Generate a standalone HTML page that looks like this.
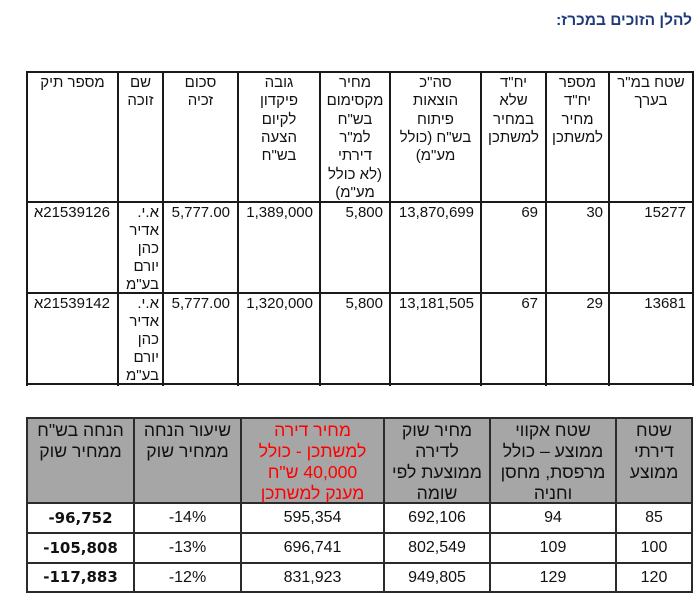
<!DOCTYPE html>
<html lang="he">
<head>
<meta charset="utf-8">
<style>
  html,body{margin:0;padding:0;background:#fff;}
  body{width:695px;height:608px;position:relative;overflow:hidden;
       font-family:"Liberation Sans","DejaVu Sans",sans-serif;color:#111;}
  .ln{position:absolute;background:#1a1a1a;}
  .ln2{position:absolute;background:#2b2b2b;}
  .t{position:absolute;direction:rtl;white-space:nowrap;}
  .h1{top:74px;font-size:15px;line-height:18.33px;text-align:center;}
  .d1{font-size:15px;line-height:18px;text-align:right;}
  .h2{top:420px;font-size:17.6px;line-height:21px;text-align:center;}
  .d2{font-size:16px;text-align:center;}
  .b{font-family:"DejaVu Sans","Liberation Sans",sans-serif;font-weight:bold;font-size:15px;}
  .red{color:#ff0000;}
</style>
</head>
<body>

<!-- Title -->
<div class="t" style="right:3px;top:12px;font-size:15.5px;font-weight:bold;color:#1f3a7a;line-height:18px;">להלן הזוכים במכרז:</div>

<!-- ===== Table 1 lines ===== -->
<div class="ln" style="left:26px;top:71px;width:2px;height:315px;"></div>
<div class="ln" style="left:117px;top:71px;width:2px;height:315px;"></div>
<div class="ln" style="left:162px;top:71px;width:2px;height:315px;"></div>
<div class="ln" style="left:237px;top:71px;width:2px;height:315px;"></div>
<div class="ln" style="left:319px;top:71px;width:2px;height:315px;"></div>
<div class="ln" style="left:389px;top:71px;width:2px;height:315px;"></div>
<div class="ln" style="left:480px;top:71px;width:2px;height:315px;"></div>
<div class="ln" style="left:545px;top:71px;width:2px;height:315px;"></div>
<div class="ln" style="left:608px;top:71px;width:2px;height:315px;"></div>
<div class="ln" style="left:692px;top:71px;width:2px;height:315px;"></div>

<div class="ln" style="left:26px;top:71px;width:668px;height:2px;"></div>
<div class="ln" style="left:26px;top:201px;width:668px;height:2px;"></div>
<div class="ln" style="left:26px;top:292px;width:668px;height:2px;"></div>
<div class="ln" style="left:26px;top:383px;width:668px;height:2px;"></div>

<!-- Table 1 header -->
<div class="t h1" style="left:609px;width:84px;">שטח במ"ר<br>בערך</div>
<div class="t h1" style="left:546px;width:63px;">מספר<br>יח"ד<br>מחיר<br>למשתכן</div>
<div class="t h1" style="left:481px;width:65px;">יח"ד<br>שלא<br>במחיר<br>למשתכן</div>
<div class="t h1" style="left:390px;width:91px;">סה"כ<br>הוצאות<br>פיתוח<br>בש"ח (כולל<br>מע"מ)</div>
<div class="t h1" style="left:320px;width:70px;">מחיר<br>מקסימום<br>בש"ח<br>למ"ר<br>דירתי<br>(לא כולל<br>מע"מ)</div>
<div class="t h1" style="left:238px;width:82px;">גובה<br>פיקדון<br>לקיום<br>הצעה<br>בש"ח</div>
<div class="t h1" style="left:163px;width:75px;">סכום<br>זכיה</div>
<div class="t h1" style="left:118px;width:45px;">שם<br>זוכה</div>
<div class="t h1" style="left:27px;width:91px;">מספר תיק</div>

<!-- Table 1 row 1 -->
<div class="t d1" style="top:204px;right:9px;">15277</div>
<div class="t d1" style="top:204px;right:92px;">30</div>
<div class="t d1" style="top:204px;right:157px;">69</div>
<div class="t d1" style="top:204px;right:221px;">13,870,699</div>
<div class="t d1" style="top:204px;right:312px;">5,800</div>
<div class="t d1" style="top:204px;right:382px;">1,389,000</div>
<div class="t d1" style="top:204px;right:465px;">5,777.00</div>
<div class="t d1" style="top:204px;right:536px;line-height:17.9px;">א.י.<br>אדיר<br>כהן<br>יורם<br>בע"מ</div>
<div class="t d1" style="top:204px;right:585px;">21539126א</div>

<!-- Table 1 row 2 -->
<div class="t d1" style="top:295px;right:9px;">13681</div>
<div class="t d1" style="top:295px;right:92px;">29</div>
<div class="t d1" style="top:295px;right:157px;">67</div>
<div class="t d1" style="top:295px;right:221px;">13,181,505</div>
<div class="t d1" style="top:295px;right:312px;">5,800</div>
<div class="t d1" style="top:295px;right:382px;">1,320,000</div>
<div class="t d1" style="top:295px;right:465px;">5,777.00</div>
<div class="t d1" style="top:295px;right:536px;line-height:17.9px;">א.י.<br>אדיר<br>כהן<br>יורם<br>בע"מ</div>
<div class="t d1" style="top:295px;right:585px;">21539142א</div>

<!-- ===== Table 2 ===== -->
<div style="position:absolute;left:27px;top:418px;width:665px;height:85px;background:#a6a6a6;"></div>

<div class="ln2" style="left:26px;top:417px;width:2px;height:176px;"></div>
<div class="ln2" style="left:133px;top:417px;width:2px;height:176px;"></div>
<div class="ln2" style="left:240px;top:417px;width:2px;height:176px;"></div>
<div class="ln2" style="left:383px;top:417px;width:2px;height:176px;"></div>
<div class="ln2" style="left:489px;top:417px;width:2px;height:176px;"></div>
<div class="ln2" style="left:615px;top:417px;width:2px;height:176px;"></div>
<div class="ln2" style="left:691px;top:417px;width:2px;height:176px;"></div>

<div class="ln2" style="left:26px;top:417px;width:667px;height:2px;"></div>
<div class="ln2" style="left:26px;top:502px;width:667px;height:2px;"></div>
<div class="ln2" style="left:26px;top:532px;width:667px;height:2px;"></div>
<div class="ln2" style="left:26px;top:562px;width:667px;height:2px;"></div>
<div class="ln2" style="left:26px;top:591px;width:667px;height:2px;"></div>

<!-- Table 2 header -->
<div class="t h2" style="left:616px;width:76px;">שטח<br>דירתי<br>ממוצע</div>
<div class="t h2" style="left:490px;width:126px;">שטח אקווי<br>ממוצע – כולל<br>מרפסת, מחסן<br>וחניה</div>
<div class="t h2" style="left:384px;width:106px;">מחיר שוק<br>לדירה<br>ממוצעת לפי<br>שומה</div>
<div class="t h2 red" style="left:241px;width:143px;">מחיר דירה<br>למשתכן - כולל<br>40,000 ש"ח<br>מענק למשתכן</div>
<div class="t h2" style="left:134px;width:107px;">שיעור הנחה<br>ממחיר שוק</div>
<div class="t h2" style="left:27px;width:107px;">הנחה בש"ח<br>ממחיר שוק</div>

<!-- Table 2 rows -->
<div class="t d2" style="left:616px;width:76px;top:503px;line-height:30px;">85</div>
<div class="t d2" style="left:490px;width:126px;top:503px;line-height:30px;">94</div>
<div class="t d2" style="left:384px;width:106px;top:503px;line-height:30px;">692,106</div>
<div class="t d2" style="left:241px;width:143px;top:503px;line-height:30px;">595,354</div>
<div class="t d2" style="left:134px;width:107px;top:503px;line-height:30px;"><span dir="ltr">-14%</span></div>
<div class="t d2 b" style="left:27px;width:107px;top:503px;line-height:30px;"><span dir="ltr">-96,752</span></div>

<div class="t d2" style="left:616px;width:76px;top:533px;line-height:30px;">100</div>
<div class="t d2" style="left:490px;width:126px;top:533px;line-height:30px;">109</div>
<div class="t d2" style="left:384px;width:106px;top:533px;line-height:30px;">802,549</div>
<div class="t d2" style="left:241px;width:143px;top:533px;line-height:30px;">696,741</div>
<div class="t d2" style="left:134px;width:107px;top:533px;line-height:30px;"><span dir="ltr">-13%</span></div>
<div class="t d2 b" style="left:27px;width:107px;top:533px;line-height:30px;"><span dir="ltr">-105,808</span></div>

<div class="t d2" style="left:616px;width:76px;top:563px;line-height:29px;">120</div>
<div class="t d2" style="left:490px;width:126px;top:563px;line-height:29px;">129</div>
<div class="t d2" style="left:384px;width:106px;top:563px;line-height:29px;">949,805</div>
<div class="t d2" style="left:241px;width:143px;top:563px;line-height:29px;">831,923</div>
<div class="t d2" style="left:134px;width:107px;top:563px;line-height:29px;"><span dir="ltr">-12%</span></div>
<div class="t d2 b" style="left:27px;width:107px;top:563px;line-height:29px;"><span dir="ltr">-117,883</span></div>

</body>
</html>
